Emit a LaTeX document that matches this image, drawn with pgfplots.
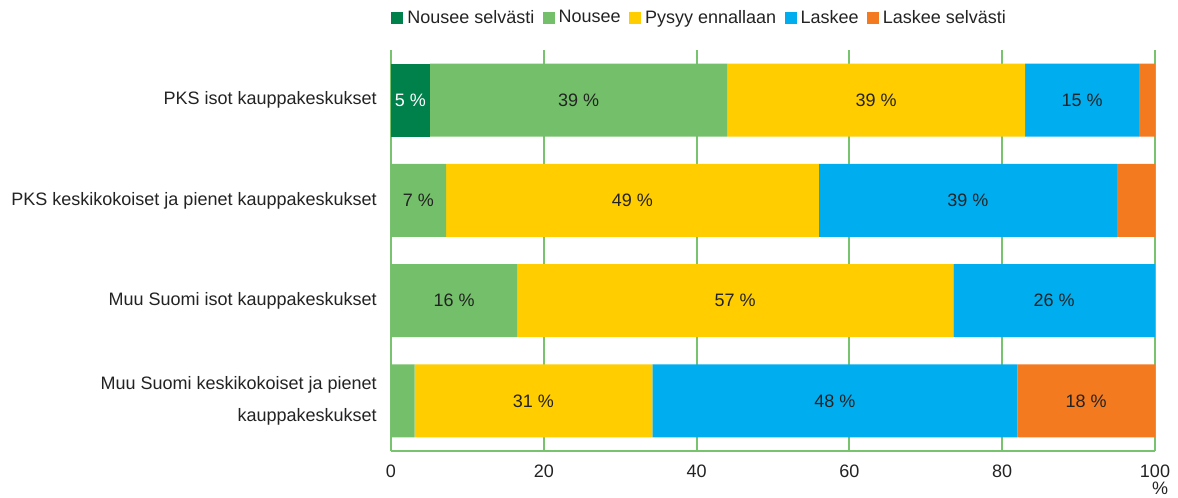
\documentclass[border=0pt]{standalone}
\usepackage{pgfplots}
\pgfplotsset{compat=1.18}
\usepackage{pgfplotstable}
\usepackage{fontspec}
\setmainfont{Liberation Sans}
\definecolor{cNS}{RGB}{0,128,74}
\definecolor{cN}{RGB}{116,192,106}
\definecolor{cP}{RGB}{255,205,0}
\definecolor{cL}{RGB}{0,174,239}
\definecolor{cLS}{RGB}{244,122,32}
\definecolor{cGrid}{RGB}{120,196,110}
\definecolor{cTxt}{RGB}{35,35,35}
\newcommand\pc[1]{#1~\%}

% category: 3 = PKS isot, 2 = PKS keski, 1 = Muu isot, 0 = Muu keski
\pgfplotstableread{
cat val lab
3 5.1 {\pc{5}}
2 0 {}
1 0 {}
0 0 {}
}\tNS
\pgfplotstableread{
cat val lab
3 38.9 {\pc{39}}
2 7.2 {\pc{7}}
1 16.5 {\pc{16}}
0 3.1 {}
}\tN
\pgfplotstableread{
cat val lab
3 39.0 {\pc{39}}
2 48.8 {\pc{49}}
1 57.1 {\pc{57}}
0 31.1 {\pc{31}}
}\tP
\pgfplotstableread{
cat val lab
3 14.9 {\pc{15}}
2 39.0 {\pc{39}}
1 26.4 {\pc{26}}
0 47.8 {\pc{48}}
}\tL
\pgfplotstableread{
cat val lab
3 2.1 {}
2 5.0 {}
1 0 {}
0 18.0 {\pc{18}}
}\tLS

\pgfplotsset{
  lbl/.style={
    nodes near coords,
    point meta=explicit symbolic,
    nodes near coords align={center},
    every node near coord/.append style={
      anchor=center,
      font=\fontsize{10.8}{13}\selectfont,
      text=#1},
  },
}

\begin{document}
\begin{tikzpicture}
\path[use as bounding box] (-234.6pt,-27.6pt) rectangle (472.2pt,270.6pt);
\begin{axis}[
  at={(0,0)}, anchor=south west,
  scale only axis,
  width=458.4pt, height=240.6pt,
  xbar stacked, bar width=43.8pt,
  xmin=0, xmax=100, ymin=-0.5, ymax=3.5,
  ytick={0,1,2,3},
  yticklabels={{Muu Suomi keskikokoiset ja pienet\\kauppakeskukset},
               {Muu Suomi isot kauppakeskukset},
               {PKS keskikokoiset ja pienet kauppakeskukset},
               {PKS isot kauppakeskukset}},
  yticklabel style={align=right, inner sep=0pt, xshift=-8.4pt,
    font=\fontsize{10.8}{19.2}\selectfont, text=cTxt},
  xtick={0,20,40,60,80,100},
  /pgf/number format/assume math mode=true,
  xticklabel style={anchor=center, inner sep=0pt, yshift=-12.2pt,
    font=\fontsize{10.8}{13}\selectfont, text=cTxt},
  xlabel={\%},
  xlabel style={at={(axis description cs:1,0)}, anchor=center, inner sep=0pt,
    yshift=-22.6pt, xshift=3pt, font=\fontsize{10.8}{13}\selectfont, text=cTxt},
  major tick length=0pt,
  tick style={draw=none},
  axis line style={draw=none},
  xmajorgrids,
  grid style={color=cGrid, line width=1.2pt},
  legend columns=-1,
  legend style={at={(axis description cs:0,1)}, anchor=west, yshift=19.2pt,
    draw=none, fill=none, inner sep=0pt,
    font=\fontsize{10.8}{13}\selectfont, text=cTxt,
    /tikz/every even column/.append style={column sep=2.6pt},
    nodes={inner xsep=2.4pt, inner ysep=1.8pt}},
  legend image code/.code={\fill[#1] (0pt,-3.6pt) rectangle (7.2pt,3.6pt);},
]
\addplot[fill=cNS, draw=none, lbl=white] table[x=val, y=cat, meta=lab] {\tNS};
\addplot[fill=cN, draw=none, lbl=cTxt] table[x=val, y=cat, meta=lab] {\tN};
\addplot[fill=cP, draw=none, lbl=cTxt] table[x=val, y=cat, meta=lab] {\tP};
\addplot[fill=cL, draw=none, lbl=cTxt] table[x=val, y=cat, meta=lab] {\tL};
\addplot[fill=cLS, draw=none, lbl=cTxt] table[x=val, y=cat, meta=lab] {\tLS};
\legend{Nousee selvästi, Nousee, Pysyy ennallaan, Laskee, Laskee selvästi}
\draw[cGrid, line width=1.2pt] (axis cs:0,-0.5) -- (axis cs:100,-0.5);
\end{axis}
\end{tikzpicture}
\end{document}
